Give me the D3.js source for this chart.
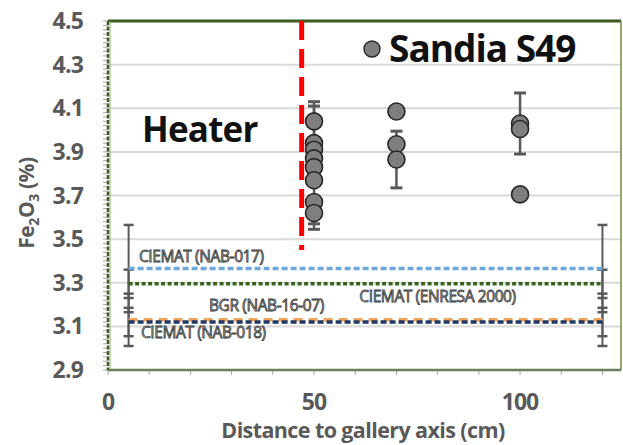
<!DOCTYPE html>
<html>
<head>
<meta charset="utf-8">
<script src="https://cdn.jsdelivr.net/npm/d3@7"></script>
<style>
  body { margin: 0; background: #fff; }
  svg { display: block; font-family: "Open Sans", "DejaVu Sans", sans-serif; }
</style>
</head>
<body>
<svg id="chart" width="623" height="445"></svg>
<script>
// Sandia S49 measurements
const sandiaX = [50, 50, 50, 50, 50, 50, 50, 50, 70, 70, 70, 100, 100, 100];
const sandiaY = [4.04, 3.94, 3.91, 3.87, 3.83, 3.77, 3.67, 3.62, 4.085, 3.935, 3.865, 4.03, 4.005, 3.705];
const sandiaErr = [0.09, 0.17, 0, 0, 0, 0, 0.1, 0.075, 0, 0, 0.13, 0.14, 0, 0];

// reference values (horizontal lines)
const refNames = ["CIEMAT (NAB-017)", "CIEMAT (ENRESA 2000)", "BGR (NAB-16-07)", "CIEMAT (NAB-018)"];
const refValues = [3.365, 3.295, 3.13, 3.12];
const refErrors = [0.2, 0.065, 0.12, 0.065];
const refRange = [5, 120];

// heater position
const heaterX = 47;
const heaterTop = 4.5;
const heaterBottom = 3.45;

const yTicks = [2.9, 3.1, 3.3, 3.5, 3.7, 3.9, 4.1, 4.3, 4.5];
const xTicks = [0, 50, 100];

const svg = d3.select("#chart");
const x = d3.scaleLinear().domain([0, 124.5]).range([108, 621]);
const y = d3.scaleLinear().domain([2.9, 4.5]).range([370, 21]);

const refStyle = [
  {color: "#6fa8dc", dash: "6,3", label: [7.5, 262]},
  {color: "#38641f", dash: "4,2.5", label: [61, 302]},
  {color: "#f4a35a", dash: "9,6", label: [24.5, 311]},
  {color: "#203864", dash: "6,3", label: [8, 338]}
];

// gridlines
svg.append("g").selectAll("line").data(yTicks).join("line")
  .attr("x1", x(0)).attr("x2", x(124.5))
  .attr("y1", d => y(d)).attr("y2", d => y(d))
  .attr("stroke", "#d9d9d9").attr("stroke-width", 2);

// minor y ticks
svg.append("g").selectAll("line").data(d3.range(2.9, 4.5001, 0.02)).join("line")
  .attr("x1", x(0) - 5).attr("x2", x(0))
  .attr("y1", d => y(d)).attr("y2", d => y(d))
  .attr("stroke", "#a6a6a6").attr("stroke-width", 1);

// minor x ticks
svg.append("g").selectAll("line").data(d3.range(0, 121, 10)).join("line")
  .attr("x1", d => x(d)).attr("x2", d => x(d))
  .attr("y1", y(2.9)).attr("y2", y(2.9) + 5)
  .attr("stroke", "#a6a6a6").attr("stroke-width", 1);

// frame
svg.append("line").attr("x1", x(0)).attr("x2", x(124.5)).attr("y1", y(4.5)).attr("y2", y(4.5))
  .attr("stroke", "#3d5a22").attr("stroke-width", 3);
svg.append("line").attr("x1", x(124.5)).attr("x2", x(124.5)).attr("y1", y(4.5)).attr("y2", y(2.9))
  .attr("stroke", "#6b8a4a").attr("stroke-width", 1.5);
svg.append("line").attr("x1", x(0)).attr("x2", x(124.5)).attr("y1", y(2.9)).attr("y2", y(2.9))
  .attr("stroke", "#6b7f5a").attr("stroke-width", 2.5);
svg.append("line").attr("x1", x(0)).attr("x2", x(0)).attr("y1", y(4.5)).attr("y2", y(2.9))
  .attr("stroke", "#3d5a22").attr("stroke-width", 2.5).attr("stroke-dasharray", "4,1.5");
svg.append("line").attr("x1", x(0) + 2).attr("x2", x(0) + 2).attr("y1", y(4.5)).attr("y2", y(2.9))
  .attr("stroke", "#8fae6f").attr("stroke-width", 1);

// heater line
svg.append("line")
  .attr("x1", x(heaterX)).attr("x2", x(heaterX))
  .attr("y1", y(heaterTop)).attr("y2", y(heaterBottom))
  .attr("stroke", "#ff0000").attr("stroke-width", 5)
  .attr("stroke-dasharray", "19,9");

// reference error bars at both ends
const refBars = [];
refValues.forEach((v, i) => refRange.forEach(xv => refBars.push({x: xv, v: v, e: refErrors[i]})));
const rb = svg.append("g").attr("stroke", "#595959").attr("stroke-width", 2);
rb.selectAll(".stem").data(refBars).join("line")
  .attr("x1", d => x(d.x)).attr("x2", d => x(d.x))
  .attr("y1", d => y(d.v - d.e)).attr("y2", d => y(d.v + d.e));
rb.selectAll(".cap").data(refBars.flatMap(d => [d.v - d.e, d.v + d.e].map(c => ({x: d.x, c: c})))).join("line")
  .attr("x1", d => x(d.x) - 5).attr("x2", d => x(d.x) + 5)
  .attr("y1", d => y(d.c)).attr("y2", d => y(d.c))
  .attr("stroke-width", 2.5);

// reference lines
refValues.forEach((v, i) => {
  svg.append("line")
    .attr("x1", x(refRange[0])).attr("x2", x(refRange[1]))
    .attr("y1", y(v)).attr("y2", y(v))
    .attr("stroke", refStyle[i].color).attr("stroke-width", 3.5)
    .attr("stroke-dasharray", refStyle[i].dash);
});

// reference labels
svg.append("g").selectAll("text").data(refNames).join("text")
  .attr("x", (d, i) => x(refStyle[i].label[0]))
  .attr("y", (d, i) => refStyle[i].label[1])
  .attr("font-size", 15.5)
  .attr("fill", "#d4d4d4").attr("stroke", "#3a3a3a").attr("stroke-width", 0.8)
  .attr("letter-spacing", -0.4)
  .text(d => d);

// sandia error bars
const pts = sandiaX.map((d, i) => ({x: d, v: sandiaY[i], e: sandiaErr[i]}));
const eb = svg.append("g").attr("stroke", "#595959").attr("stroke-width", 2.5);
const withErr = pts.filter(d => d.e > 0);
eb.selectAll(".stem").data(withErr).join("line")
  .attr("x1", d => x(d.x)).attr("x2", d => x(d.x))
  .attr("y1", d => y(d.v - d.e)).attr("y2", d => y(d.v + d.e));
eb.selectAll(".cap").data(withErr.flatMap(d => [d.v - d.e, d.v + d.e].map(c => ({x: d.x, c: c})))).join("line")
  .attr("x1", d => x(d.x) - 6).attr("x2", d => x(d.x) + 6)
  .attr("y1", d => y(d.c)).attr("y2", d => y(d.c))
  .attr("stroke-width", 3);

// sandia points
svg.append("g").selectAll("circle").data(pts).join("circle")
  .attr("cx", d => x(d.x)).attr("cy", d => y(d.v))
  .attr("r", 8.5)
  .attr("fill", "#7f7f7f").attr("stroke", "#262626").attr("stroke-width", 1.6);

// y axis labels
svg.append("g").selectAll("text").data(yTicks).join("text")
  .attr("x", 83).attr("y", d => y(d) + 8)
  .attr("text-anchor", "end")
  .attr("font-size", 23).attr("font-weight", 700).attr("fill", "#595959")
  .attr("letter-spacing", -0.8)
  .text(d => d3.format(".1f")(d));

// x axis labels
svg.append("g").selectAll("text").data(xTicks).join("text")
  .attr("x", d => x(d)).attr("y", 410)
  .attr("text-anchor", "middle")
  .attr("font-size", 23).attr("font-weight", 700).attr("fill", "#595959")
  .attr("letter-spacing", -1)
  .text(d => d);

// axis titles
svg.append("text")
  .attr("x", 363).attr("y", 438)
  .attr("text-anchor", "middle")
  .attr("font-size", 21.5).attr("font-weight", 700).attr("fill", "#595959")
  .attr("letter-spacing", -0.6)
  .text("Distance to gallery axis (cm)");

const yt = svg.append("text")
  .attr("transform", "translate(34,203) rotate(-90)")
  .attr("text-anchor", "middle")
  .attr("font-size", 21).attr("font-weight", 700).attr("fill", "#595959")
  .attr("letter-spacing", -0.4);
yt.append("tspan").text("Fe");
yt.append("tspan").attr("font-size", 14).attr("dy", 5).text("2");
yt.append("tspan").attr("dy", -5).text("O");
yt.append("tspan").attr("font-size", 14).attr("dy", 5).text("3");
yt.append("tspan").attr("dy", -5).text(" (%)");

// annotations
svg.append("text")
  .attr("x", 142).attr("y", 142)
  .attr("font-size", 35).attr("font-weight", 700).attr("fill", "#111")
  .attr("letter-spacing", -0.8)
  .text("Heater");

svg.append("circle")
  .attr("cx", 372).attr("cy", 49).attr("r", 8)
  .attr("fill", "#7f7f7f").attr("stroke", "#262626").attr("stroke-width", 1.4);
svg.append("text")
  .attr("x", 389).attr("y", 62)
  .attr("font-size", 37).attr("font-weight", 700).attr("fill", "#111")
  .attr("letter-spacing", -1)
  .text("Sandia S49");
</script>
</body>
</html>
